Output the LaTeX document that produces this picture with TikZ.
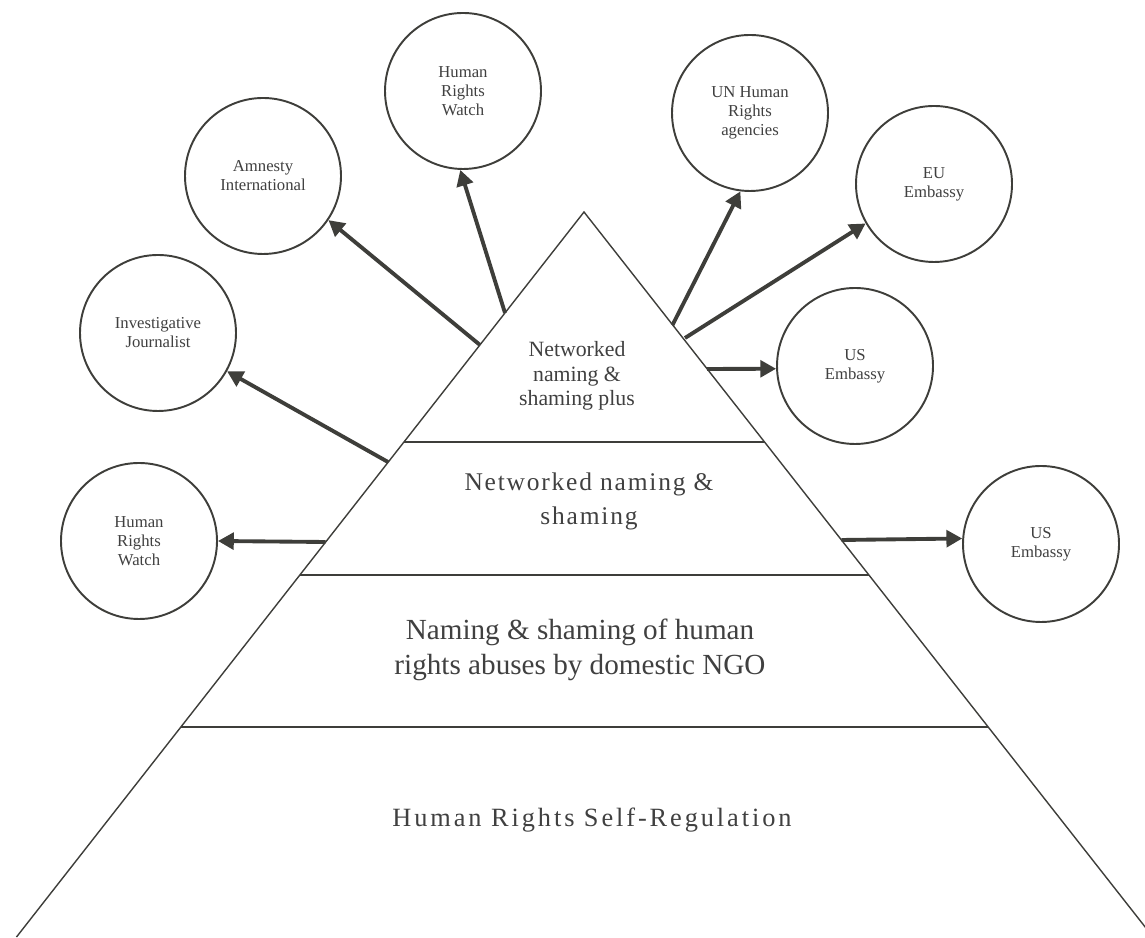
\documentclass[tikz,border=0pt]{standalone}
\usepackage{fontspec}
\setmainfont{Liberation Serif}
\newfontfamily\widefont[LetterSpace=7]{Liberation Serif}
\newfontfamily\widerfont[LetterSpace=11]{Liberation Serif}
\usetikzlibrary{arrows.meta}
\definecolor{inkgray}{RGB}{62, 62, 58}
\definecolor{textgray}{RGB}{64, 64, 64}

\begin{document}
\begin{tikzpicture}[
      actor/.style={
          draw=inkgray, line width=1.1pt, circle,
          minimum size=3.12cm, inner sep=0pt,
          align=center, text=textgray,
          font=\fontsize{9.5}{10.8}\selectfont
      },
      level/.style={
          text=textgray, align=center
      },
      edge/.style={
          draw=inkgray, line width=0.8pt
      },
      tier/.style={
          draw=inkgray, line width=1pt
      },
      line/.style={
          draw=inkgray, line width=2.2pt, -{Triangle[length=9pt, width=9.5pt]}
      }
  ]
      \clip (0, 0) rectangle (22.9, 18.74);

      % Pyramid
      \coordinate (apex) at (11.68, 14.50);
      \coordinate (bl) at (0.33, 0);
      \coordinate (br) at (23.06, 0);
      \draw[edge] (bl) -- (apex) -- (br);

      \draw[tier] (8.08, 9.90) -- (15.29, 9.90);
      \draw[tier] (6.00, 7.24) -- (17.38, 7.24);
      \draw[tier] (3.62, 4.20) -- (19.76, 4.20);

      % Levels
      \node[level, font=\fontsize{12.4}{14}\selectfont] (plus) at (11.54, 11.22) {Networked\\naming \&\\shaming plus};
      \node[level, font=\widefont\fontsize{14.5}{19}\selectfont] (net) at (11.78, 8.71) {Networked naming \&\\shaming};
      \node[level, font=\fontsize{16.6}{20}\selectfont] (ngo) at (11.60, 5.75) {Naming \& shaming of human\\rights abuses by domestic NGO};
      \node[level, font=\widerfont\fontsize{15}{18}\selectfont] (self) at (11.84, 2.34) {Human Rights Self-Regulation};

      % Actors
      \node[actor] (hrwlow) at (2.78, 7.92) {Human\\Rights\\Watch};
      \node[actor] (invest) at (3.16, 12.08) {Investigative\\Journalist};
      \node[actor] (amnesty) at (5.26, 15.22) {Amnesty\\International};
      \node[actor] (hrwtop) at (9.26, 16.92) {Human\\Rights\\Watch};
      \node[actor] (un) at (15.00, 16.48) {UN Human\\Rights\\agencies};
      \node[actor] (eu) at (18.68, 15.06) {EU\\Embassy};
      \node[actor] (usmid) at (17.10, 11.42) {US\\Embassy};
      \node[actor] (uslow) at (20.82, 7.86) {US\\Embassy};

      % Starting points on the sides
      \coordinate (shrwtop) at (10.10, 12.48);
      \coordinate (samnesty) at (9.60, 11.84);
      \coordinate (sinvest) at (7.76, 9.50);
      \coordinate (shrwlow) at (6.51, 7.90);
      \coordinate (sun) at (13.45, 12.24);
      \coordinate (seu) at (13.70, 11.98);
      \coordinate (susmid) at (14.14, 11.36);
      \coordinate (suslow) at (16.83, 7.94);

      % Arrows
      \draw[line] (shrwtop) -- (hrwtop.268);
      \draw[line] (samnesty) -- (amnesty.326);
      \draw[line] (sinvest) -- (invest.331);
      \draw[line] (shrwlow) -- (hrwlow.0);
      \draw[line] (sun) -- (un.263);
      \draw[line] (seu) -- (eu.210);
      \draw[line] (susmid) -- (usmid.182);
      \draw[line] (suslow) -- (uslow.176);
  \end{tikzpicture}
\end{document}
